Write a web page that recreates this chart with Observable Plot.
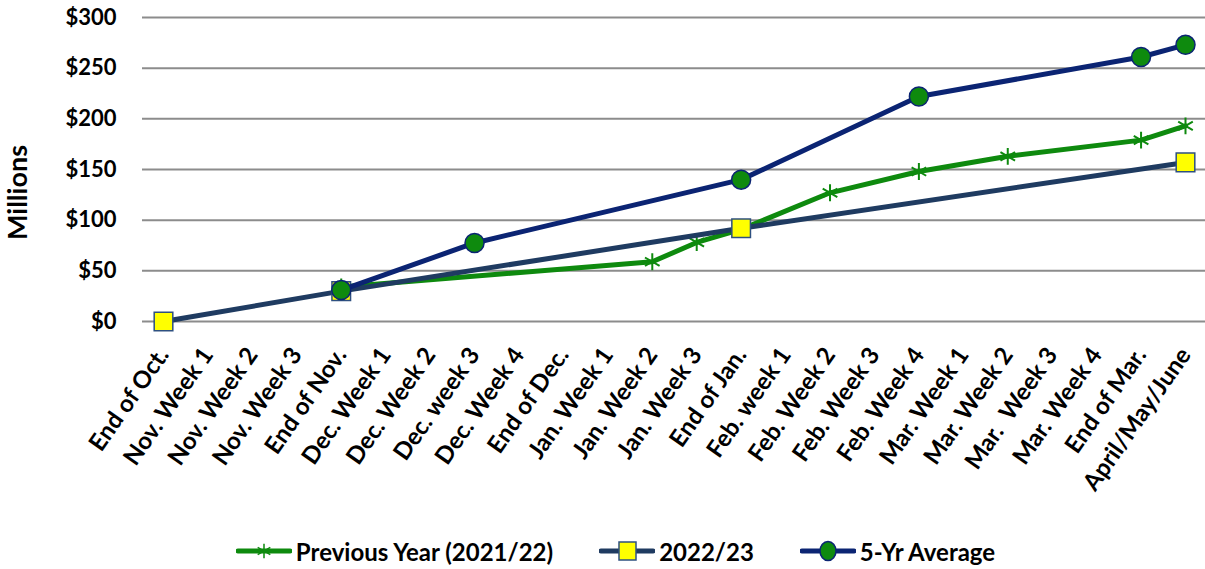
<!DOCTYPE html>
<html>
<head>
<meta charset="utf-8">
<script src="https://cdn.jsdelivr.net/npm/d3@7"></script>
<script src="https://cdn.jsdelivr.net/npm/@observablehq/plot@0.6"></script>
<style>
  html, body { margin: 0; padding: 0; background: #fff; }
  body { width: 1205px; height: 569px; overflow: hidden; font-family: Lato, "Open Sans", sans-serif; font-weight: bold; }
  #legend { display: flex; justify-content: center; align-items: center; height: 34px; font-size: 24px; color: #000; padding-left: 26px; }
  .item { display: flex; align-items: center; margin: 0 23px; }
  .item svg { margin-right: 4px; }
</style>
</head>
<body>
<div id="chart"></div>
<div id="legend"></div>
<script>
const categories = ["End of Oct.", "Nov. Week 1", "Nov. Week 2", "Nov. Week 3", "End of Nov.", "Dec. Week 1", "Dec. Week 2", "Dec. week 3", "Dec. Week 4", "End of Dec.", "Jan. Week 1", "Jan. Week 2", "Jan. Week 3", "End of Jan.", "Feb. week 1", "Feb. Week 2", "Feb. Week 3", "Feb. Week 4", "Mar. Week 1", "Mar. Week 2", "Mar.  Week 3", "Mar. Week 4", "End of Mar.", "April/May/June"];
const previousYear = [null, null, null, null, 34, null, null, null, null, null, null, 59, 78, 91, null, 127, null, 148, null, 163, null, null, 179, 193];
const current = [0, null, null, null, 30, null, null, null, null, null, null, null, null, 92, null, null, null, null, null, null, null, null, null, 157];
const fiveYear = [null, null, null, null, 31, null, null, 77.5, null, null, null, null, null, 140, null, null, null, 222, null, null, null, null, 261, 273];
const yTicks = [0, 50, 100, 150, 200, 250, 300];
const seriesNames = ["Previous Year (2021/22)", "2022/23", "5-Yr Average"];

const GREEN = "#0e8a0e", SLATE = "#1f3b61", NAVY = "#0b2473", YELLOW = "#ffff00";

function toRows(vals) {
  return categories.map((c, i) => ({cat: c, v: vals[i]})).filter(d => d.v != null);
}
const prevRows = toRows(previousYear), curRows = toRows(current), fiveRows = toRows(fiveYear);

const chart = Plot.plot({
  width: 1205,
  height: 534,
  marginTop: 17,
  marginBottom: 213,
  marginLeft: 142,
  marginRight: 0,
  style: {fontFamily: "Lato, 'Open Sans', sans-serif", fontWeight: "bold", fontSize: "22px", color: "#000", background: "#fff"},
  x: {type: "point", domain: categories, range: [163, 1185], padding: 0, round: false},
  y: {domain: [0, 300]},
  marks: [
    Plot.ruleY(yTicks, {stroke: "#8c8c8c", strokeWidth: 2}),
    Plot.axisY({ticks: yTicks, tickSize: 0, tickPadding: 26, tickFormat: d => "$" + d, fontSize: 22, fontWeight: "bold",
      label: null}),
    Plot.text(["Millions"], {frameAnchor: "left", dx: -124, dy: 23, rotate: -90, textAnchor: "middle", fontSize: 27, fontWeight: "bold", fill: "#000"}),
    Plot.axisX({tickSize: 0, tickPadding: 29, tickRotate: -55, fontSize: 24, fontWeight: "bold", label: null}),
    Plot.line(prevRows, {x: "cat", y: "v", stroke: GREEN, strokeWidth: 5}),
    Plot.dot(prevRows, {x: "cat", y: "v", symbol: "asterisk", r: 8, stroke: GREEN, strokeWidth: 2}),
    Plot.line(curRows, {x: "cat", y: "v", stroke: SLATE, strokeWidth: 5}),
    Plot.dot(curRows, {x: "cat", y: "v", symbol: "square", r: 10.5, fill: YELLOW, stroke: "#2e5080", strokeWidth: 1.5}),
    Plot.line(fiveRows, {x: "cat", y: "v", stroke: NAVY, strokeWidth: 5}),
    Plot.dot(fiveRows, {x: "cat", y: "v", symbol: "circle", r: 9.5, fill: GREEN, stroke: NAVY, strokeWidth: 1.5})
  ]
});
document.getElementById("chart").appendChild(chart);

// Legend
const legend = d3.select("#legend");
const specs = [
  {name: seriesNames[0], line: GREEN, marker: "star"},
  {name: seriesNames[1], line: SLATE, marker: "square"},
  {name: seriesNames[2], line: NAVY, marker: "circle"}
];
specs.forEach(s => {
  const item = legend.append("div").attr("class", "item");
  const svg = item.append("svg").attr("width", 56).attr("height", 24);
  svg.append("line").attr("x1", 2).attr("x2", 54).attr("y1", 12).attr("y2", 12)
    .attr("stroke", s.line).attr("stroke-width", 5).attr("stroke-linecap", "round");
  if (s.marker === "star") {
    svg.append("path").attr("transform", "translate(28,12)")
      .attr("d", d3.symbol(d3.symbolAsterisk, 150)()).attr("stroke", GREEN).attr("stroke-width", 1.5).attr("fill", "none");
  } else if (s.marker === "square") {
    svg.append("rect").attr("x", 20).attr("y", 3).attr("width", 17).attr("height", 18)
      .attr("fill", YELLOW).attr("stroke", "#2e5080").attr("stroke-width", 1.5);
  } else {
    svg.append("ellipse").attr("cx", 28).attr("cy", 12).attr("rx", 8).attr("ry", 9.5)
      .attr("fill", GREEN).attr("stroke", NAVY).attr("stroke-width", 1.5);
  }
  item.append("span").text(s.name);
});
</script>
</body>
</html>
